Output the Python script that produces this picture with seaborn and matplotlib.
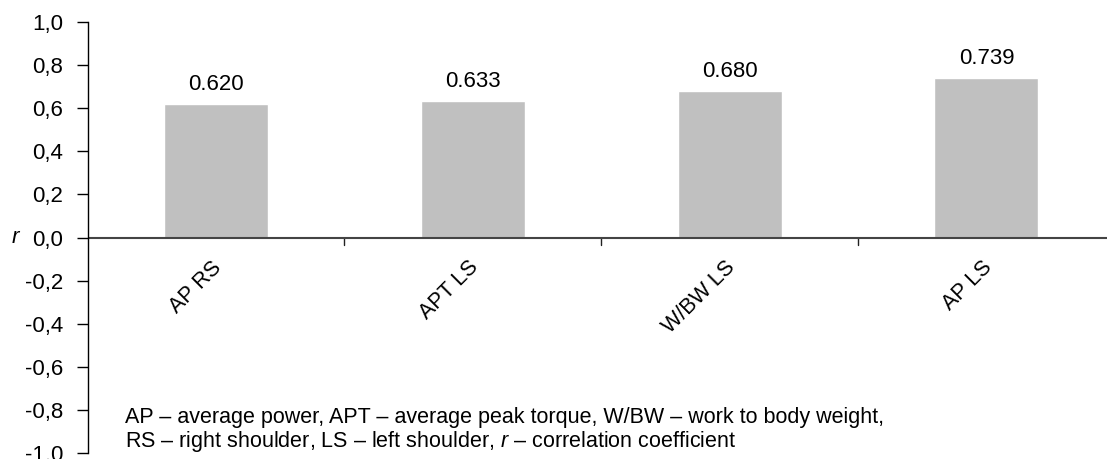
import pandas as pd
import matplotlib
matplotlib.use('Agg')
import matplotlib.pyplot as plt
import seaborn as sns

categories = ['AP RS', 'APT LS', 'W/BW LS', 'AP LS']
r_values = [0.620, 0.633, 0.680, 0.739]
y_ticks = [-1.0, -0.8, -0.6, -0.4, -0.2, 0.0, 0.2, 0.4, 0.6, 0.8, 1.0]
note_lines = ['AP \u2013 average power, APT \u2013 average peak torque, W/BW \u2013 work to body weight,',
              'RS \u2013 right shoulder, LS \u2013 left shoulder, $\\it{r}$ \u2013 correlation coefficient']

df = pd.DataFrame({'measure': categories, 'r': r_values})

sns.set_style('white')
plt.rcParams['font.family'] = ['Liberation Sans', 'DejaVu Sans']
plt.rcParams['mathtext.fontset'] = 'custom'
plt.rcParams['mathtext.it'] = 'Liberation Sans:italic'
plt.rcParams['text.color'] = 'black'

fig = plt.figure(figsize=(11.07, 4.59), dpi=100)
# axes runs slightly past the right edge, like the source
ax = fig.add_axes([0.0791, 0.013, 0.928, 0.939])
ax.set_clip_on(False)
sns.barplot(x='measure', y='r', data=df, color='#c0c0c0', width=0.405, ax=ax, saturation=1)

ax.set_xlim(-0.5, 3.5)
ax.set_ylim(-1.0, 1.0)
ax.set_yticks(y_ticks)
ax.set_yticklabels([f'{v:.1f}'.replace('.', ',') for v in y_ticks], fontsize=16, color='black')
ax.tick_params(axis='y', direction='out', length=8, width=1, color='black', pad=9.5, left=True)

# category labels below the zero line
ax.set_xticks([])
for i, name in enumerate(categories):
    ax.text(i - 0.02, -0.09, name, rotation=45, ha='right', va='top',
            rotation_mode='anchor', fontsize=15.5)
# small ticks between categories on the zero line
for b in [0.5, 1.5, 2.5]:
    ax.plot([b, b], [0, -0.035], color='#222222', lw=1)

for i, v in enumerate(r_values):
    ax.text(i, v + 0.065, f'{v:.3f}', ha='center', va='baseline', fontsize=16)

ax.axhline(0, color='#444444', lw=1.5)
for s in ['top', 'right', 'bottom']:
    ax.spines[s].set_visible(False)
ax.spines['left'].set_color('black')
ax.spines['left'].set_linewidth(1)
ax.set_xlabel('')
ax.set_ylabel('')

fig.text(12 / 1107, 1 - 237 / 459, 'r', style='italic', fontsize=16, va='center')
fig.text(125 / 1107, 1 - 423 / 459, note_lines[0], fontsize=15.5, va='baseline')
fig.text(125 / 1107, 1 - 447 / 459, note_lines[1], fontsize=15.5, va='baseline')

plt.savefig('out.png', dpi=100)
